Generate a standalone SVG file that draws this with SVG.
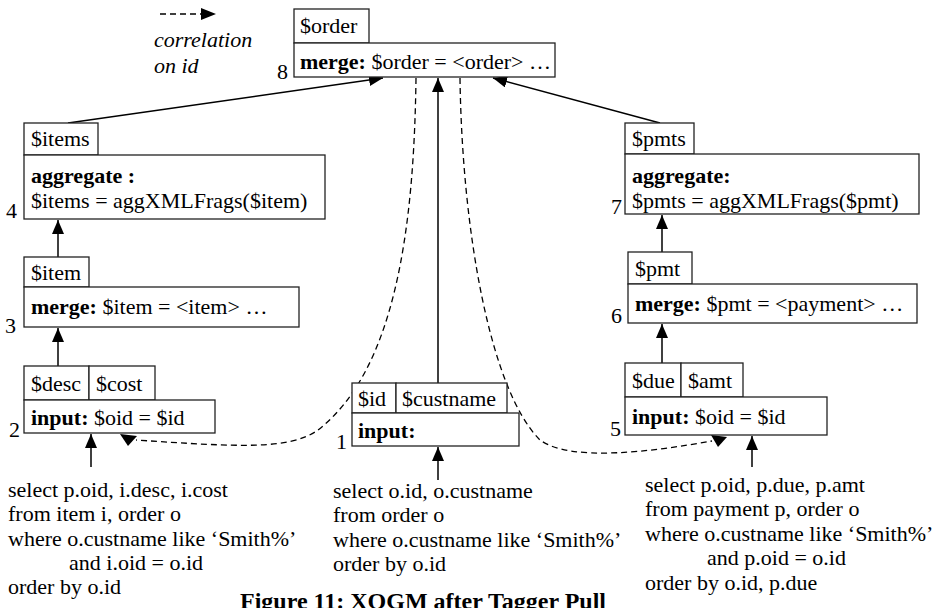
<svg xmlns="http://www.w3.org/2000/svg" width="935" height="608" viewBox="0 0 935 608">
<style>
text{font-family:"Liberation Serif","Times New Roman",serif;font-size:22px;fill:#000}
.b{font-weight:bold}
.i{font-style:italic}
.box{fill:#fff;stroke:#222;stroke-width:1.3}
.ln{fill:none;stroke:#000;stroke-width:1.5}
.dash{fill:none;stroke:#000;stroke-width:1.3;stroke-dasharray:6,4}
.cap{font-weight:bold;font-size:24px}
</style>
<defs>
<marker id="ah" viewBox="0 0 14 12" refX="14" refY="6" markerWidth="14" markerHeight="12" orient="auto" markerUnits="userSpaceOnUse"><path d="M0,0 L14,6 L0,12 z" fill="#000"/></marker>
</defs>

<g id="legend">
<line x1="160" y1="14" x2="201" y2="14" class="dash"/>
<path d="M201,8 L216,14 L201,20 z" fill="#000"/>
<text x="154" y="47" class="i">correlation</text>
<text x="154" y="73" class="i">on id</text>
</g>

<g id="connectors">
<line x1="68" y1="123" x2="383" y2="78" class="ln" marker-end="url(#ah)"/>
<line x1="660" y1="123" x2="493" y2="78" class="ln" marker-end="url(#ah)"/>
<line x1="438" y1="383" x2="438" y2="78" class="ln" marker-end="url(#ah)"/>
<line x1="58" y1="257" x2="58" y2="220" class="ln" marker-end="url(#ah)"/>
<line x1="58" y1="366" x2="58" y2="328" class="ln" marker-end="url(#ah)"/>
<line x1="662" y1="252" x2="662" y2="215" class="ln" marker-end="url(#ah)"/>
<line x1="662" y1="363" x2="662" y2="324" class="ln" marker-end="url(#ah)"/>
<line x1="91" y1="467" x2="91" y2="434" class="ln" marker-end="url(#ah)"/>
<line x1="438" y1="480" x2="438" y2="447" class="ln" marker-end="url(#ah)"/>
<line x1="752" y1="467" x2="752" y2="436" class="ln" marker-end="url(#ah)"/>
<path d="M416,78 C414,230 395,370 318,430 C290,450 240,447 136,440" class="dash"/>
<polygon points="120,434 137,436 128,446" fill="#000"/>
<path d="M460,78 C462,230 490,390 540,440 C570,462 650,452 712,441" class="dash"/>
<polygon points="711,435 727,437 718,447" fill="#000"/>
</g>

<g id="n8">
<rect x="294" y="9" width="75" height="34" class="box"/>
<text x="300" y="33">$order</text>
<rect x="294" y="43" width="261" height="34" class="box"/>
<text x="300" y="69"><tspan class="b">merge:</tspan> $order = &lt;order&gt; …</text>
<text x="277" y="79">8</text>
</g>

<g id="n4">
<rect x="24" y="123" width="74" height="32" class="box"/>
<text x="31" y="146">$items</text>
<rect x="24" y="155" width="301" height="64" class="box"/>
<text x="31" y="183" class="b">aggregate :</text>
<text x="31" y="208">$items = aggXMLFrags($item)</text>
<text x="6" y="218">4</text>
</g>

<g id="n3">
<rect x="24" y="257" width="65" height="30" class="box"/>
<text x="31" y="280">$item</text>
<rect x="24" y="287" width="275" height="40" class="box"/>
<text x="31" y="314"><tspan class="b">merge:</tspan> $item = &lt;item&gt; …</text>
<text x="5" y="333">3</text>
</g>

<g id="n2">
<rect x="24" y="366" width="65" height="34" class="box"/>
<text x="31" y="391">$desc</text>
<rect x="89" y="366" width="66" height="34" class="box"/>
<text x="96" y="391">$cost</text>
<rect x="24" y="400" width="191" height="33" class="box"/>
<text x="31" y="425"><tspan class="b">input:</tspan> $oid = $id</text>
<text x="9" y="437">2</text>
</g>

<g id="n1">
<rect x="352" y="383" width="44" height="30" class="box"/>
<text x="358" y="406">$id</text>
<rect x="396" y="383" width="111" height="30" class="box"/>
<text x="402" y="406">$custname</text>
<rect x="352" y="413" width="167" height="33" class="box"/>
<text x="358" y="438" class="b">input:</text>
<text x="336" y="449">1</text>
</g>

<g id="n7">
<rect x="625" y="123" width="69" height="31" class="box"/>
<text x="632" y="146">$pmts</text>
<rect x="625" y="154" width="294" height="60" class="box"/>
<text x="632" y="183" class="b">aggregate:</text>
<text x="632" y="208">$pmts = aggXMLFrags($pmt)</text>
<text x="611" y="214">7</text>
</g>

<g id="n6">
<rect x="628" y="252" width="64" height="32" class="box"/>
<text x="635" y="276">$pmt</text>
<rect x="628" y="284" width="289" height="39" class="box"/>
<text x="635" y="311"><tspan class="b">merge:</tspan> $pmt = &lt;payment&gt; …</text>
<text x="611" y="323">6</text>
</g>

<g id="n5">
<rect x="625" y="363" width="56" height="34" class="box"/>
<text x="632" y="388">$due</text>
<rect x="681" y="363" width="62" height="34" class="box"/>
<text x="688" y="388">$amt</text>
<rect x="625" y="397" width="202" height="38" class="box"/>
<text x="632" y="424"><tspan class="b">input:</tspan> $oid = $id</text>
<text x="610" y="436">5</text>
</g>

<g id="q2">
<text x="8" y="497">select p.oid, i.desc, i.cost</text>
<text x="8" y="521">from item i, order o</text>
<text x="8" y="546">where o.custname like ‘Smith%’</text>
<text x="69" y="570">and i.oid = o.id</text>
<text x="8" y="594">order by o.id</text>
</g>

<g id="q1">
<text x="333" y="498">select o.id, o.custname</text>
<text x="333" y="522">from order o</text>
<text x="333" y="547">where o.custname like ‘Smith%’</text>
<text x="333" y="571">order by o.id</text>
</g>

<g id="q5">
<text x="645" y="492">select p.oid, p.due, p.amt</text>
<text x="645" y="516">from payment p, order o</text>
<text x="645" y="541">where o.custname like ‘Smith%’</text>
<text x="707" y="565">and p.oid = o.id</text>
<text x="645" y="590">order by o.id, p.due</text>
</g>

<text x="240" y="609" class="cap">Figure 11: XQGM after Tagger Pull</text>
</svg>
